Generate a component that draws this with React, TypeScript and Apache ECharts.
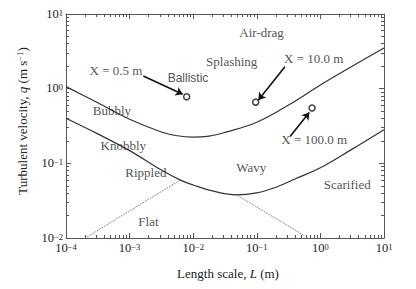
import React, { useEffect, useRef } from "react";
import * as echarts from "echarts";

// ---- data ----
const upperCurve: [number, number][] = [
  [0.0001, 1.064], [0.000316, 0.646], [0.001, 0.389], [0.00316, 0.263],
  [0.00562, 0.234], [0.01, 0.225], [0.0178, 0.232], [0.0316, 0.26],
  [0.1, 0.355], [0.316, 0.603], [1, 1.122], [3.16, 1.995], [10, 3.51],
];
const lowerCurve: [number, number][] = [
  [0.0001, 0.402], [0.000316, 0.248], [0.001, 0.148], [0.00316, 0.0813],
  [0.0063, 0.0596], [0.01, 0.0513], [0.02, 0.0427], [0.0483, 0.0378],
  [0.1, 0.0403], [0.2, 0.0479], [0.398, 0.0617], [1, 0.0871], [3.16, 0.155], [10, 0.282],
];
const dottedLeft: [number, number][] = [[0.0002, 0.01], [0.0062, 0.0594]];
const dottedRight: [number, number][] = [[0.0483, 0.0378], [0.566, 0.0107]];

const fetchPoints: [number, number][] = [[0.0079, 0.78], [0.096, 0.66], [0.74, 0.55]];
const fetchLabels = ["X = 0.5 m", "X = 10.0 m", "X = 100.0 m"];
const fetchLabelPos: [number, number][] = [[0.000611, 1.73], [0.787, 2.55], [0.798, 0.206]];
const arrowFrom: [number, number][] = [[0.00164, 1.48], [0.277, 1.97], [0.333, 0.228]];
const arrowTo: [number, number][] = [[0.00684, 0.841], [0.106, 0.706], [0.668, 0.478]];

const regionLabels = ["Air-drag", "Splashing", "Ballistic", "Bubbly", "Knobbly", "Rippled", "Flat", "Wavy", "Scarified"];
const regionLabelPos: [number, number][] = [
  [0.119, 5.69], [0.0403, 2.3], [0.00828, 1.38], [0.000528, 0.508], [0.000796, 0.176],
  [0.0018, 0.0751], [0.00198, 0.0166], [0.082, 0.0875], [2.64, 0.0525],
];

const xMin = 1e-4, xMax = 10, yMin = 1e-2, yMax = 10;
const xName = "Length scale, {i|L} (m)";
const yName = "Turbulent velocity, {i|q} (m s{e|−1})";

const SERIF = '"Liberation Serif", "Times New Roman", serif';
const SANS = '"Liberation Sans", Arial, sans-serif';
const FRAME = "#555";
const INK = "#222";

const expLabel = (v: number) => {
  const e = Math.round(Math.log10(v));
  return `{b|10}{e|${e < 0 ? "−" + -e : e}}`;
};
const labelRich = {
  b: { fontSize: 12.5, fontFamily: SERIF, color: INK, lineHeight: 12, verticalAlign: "bottom" },
  e: { fontSize: 8.5, fontFamily: SERIF, color: INK, lineHeight: 8, verticalAlign: "top", padding: [0, 0, 6, 0] },
};

function makeAxis(position: string, isX: boolean, main: boolean) {
  return {
    type: "log",
    logBase: 10,
    min: isX ? xMin : yMin,
    max: isX ? xMax : yMax,
    position,
    axisLine: { show: true, onZero: false, lineStyle: { color: FRAME, width: 1 } },
    axisTick: { show: true, inside: true, length: 5, lineStyle: { color: FRAME, width: 1 } },
    minorTick: { show: true, splitNumber: 9, length: 3, lineStyle: { color: FRAME, width: 1 } },
    splitLine: { show: false },
    minorSplitLine: { show: false },
    axisLabel: main
      ? { show: true, formatter: expLabel, rich: labelRich, margin: isX ? 4 : 3 }
      : { show: false },
    ...(main
      ? {
          name: isX ? xName : yName,
          nameLocation: "middle",
          nameGap: isX ? 29 : 31,
          nameTextStyle: {
            fontSize: 13,
            fontFamily: SERIF,
            color: INK,
            padding: isX ? [0, 0, 0, 6] : [0, 0, 0, 10],
            rich: {
              i: { fontSize: 13, fontFamily: SERIF, fontStyle: "italic", color: INK },
              e: { fontSize: 8.5, fontFamily: SERIF, color: INK, verticalAlign: "top", lineHeight: 8, padding: [0, 0, 6, 0] },
            },
          },
        }
      : {}),
  };
}

export default function App() {
  const ref = useRef<HTMLDivElement>(null);
  useEffect(() => {
    if (!ref.current) return;
    const chart = echarts.init(ref.current, undefined, { renderer: "svg" });
    chart.setOption({
      animation: false,
      backgroundColor: "#fff",
      grid: { left: 66, right: 32, top: 14, bottom: 51 },
      xAxis: [makeAxis("bottom", true, true), makeAxis("top", true, false)],
      yAxis: [makeAxis("left", false, true), makeAxis("right", false, false)],
      series: [
        { type: "line", data: upperCurve, smooth: 0.4, showSymbol: false, silent: true, lineStyle: { color: "#333", width: 1.2 } },
        { type: "line", data: lowerCurve, smooth: 0.4, showSymbol: false, silent: true, lineStyle: { color: "#333", width: 1.2 } },
        { type: "line", data: dottedLeft, showSymbol: false, silent: true, lineStyle: { color: "#666", width: 1, type: "dotted" } },
        { type: "line", data: dottedRight, showSymbol: false, silent: true, lineStyle: { color: "#666", width: 1, type: "dotted" } },
        {
          type: "lines",
          coordinateSystem: "cartesian2d",
          silent: true,
          symbol: ["none", "arrow"],
          symbolSize: 7,
          lineStyle: { color: "#111", width: 1.6, opacity: 1 },
          data: arrowFrom.map((f, i) => ({ coords: [f, arrowTo[i]] })),
        },
        {
          type: "scatter",
          data: fetchPoints,
          symbol: "circle",
          symbolSize: 6,
          silent: true,
          itemStyle: { color: "#fff", borderColor: "#111", borderWidth: 1.5 },
        },
        {
          type: "scatter",
          symbolSize: 0,
          silent: true,
          itemStyle: { color: "transparent" },
          label: { show: true, position: "inside", formatter: "{b}", fontSize: 13, fontFamily: SERIF, color: INK },
          data: [
            ...regionLabels.map((n, i) => ({
              name: n,
              value: regionLabelPos[i],
              ...(n === "Ballistic" ? { label: { fontFamily: SANS, fontSize: 12 } } : {}),
            })),
            ...fetchLabels.map((n, i) => ({ name: n, value: fetchLabelPos[i] })),
          ],
        },
      ],
    });
    return () => chart.dispose();
  }, []);
  return <div ref={ref} style={{ position: "absolute", left: 0, top: 0, width: 416, height: 289 }} />;
}
